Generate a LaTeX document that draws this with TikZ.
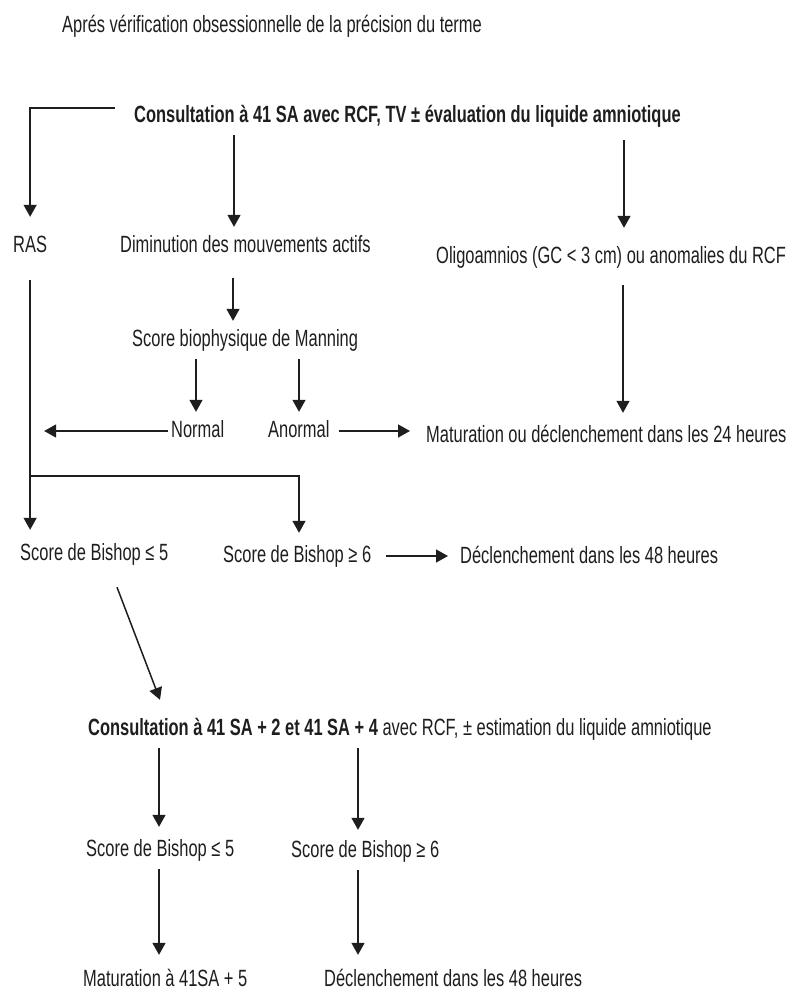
\documentclass[tikz,border=0pt]{standalone}
\usepackage{fontspec}
\setmainfont{Liberation Sans}[FakeStretch=0.7]
\usepackage{tikz}
\usetikzlibrary{arrows.meta}
\definecolor{ink}{HTML}{1E1E1E}

\begin{document}
\begin{tikzpicture}[x=1pt,y=-1pt]
		\tikzset{> = {Triangle[width=13pt,length=12pt]}}
		\tikzset{txt/.style = {anchor = base west,inner xsep = 0pt,inner ysep = 8pt,
				text height = 17pt,text depth = 5pt,text = ink,
				font = \fontsize{23.5}{28}\selectfont}}
		\tikzset{lien/.style = {draw = ink,line width = 1.5pt}}
		\useasboundingbox (0,0) rectangle (793,993);
		% textes
		\node[txt] (titre) at (62,32) {Aprés vérification obsessionnelle de la précision du terme};
		\node[txt] (cons) at (134,122) {\textbf{Consultation à 41 SA avec RCF, TV ± évaluation du liquide amniotique}};
		\node[txt] (ras) at (13,252) {RAS};
		\node[txt] (dim) at (120,252) {Diminution des mouvements actifs};
		\node[txt] (oli) at (436,263) {Oligoamnios (GC < 3 cm) ou anomalies du RCF};
		\node[txt] (man) at (132,346) {Score biophysique de Manning};
		\node[txt] (nor) at (171,437) {Normal};
		\node[txt] (ano) at (268,437) {Anormal};
		\node[txt] (matA) at (426,442) {Maturation ou déclenchement dans les 24 heures};
		\node[txt] (bisA) at (20,560) {Score de Bishop ≤ 5};
		\node[txt] (bisB) at (223,562) {Score de Bishop ≥ 6};
		\node[txt] (decA) at (460,563) {Déclenchement dans les 48 heures};
		\node[txt] (consB) at (88,735) {\textbf{Consultation à 41 SA + 2 et 41 SA + 4} avec RCF, ± estimation du liquide amniotique};
		\node[txt] (bisC) at (86,856) {Score de Bishop ≤ 5};
		\node[txt] (bisD) at (291,857) {Score de Bishop ≥ 6};
		\node[txt] (matB) at (83,986) {Maturation à 41SA + 5};
		\node[txt] (decB) at (324,986) {Déclenchement dans les 48 heures};
		% fleches
		\draw[lien,->] ([shift={(-19,-8)}]cons.west) -| ([yshift=10]ras.north);
		\draw[lien,->] (cons.south -| 234,0) -- (dim.north -| 234,0);
		\draw[lien,->] ([yshift=-5]cons.south -| 624,0) -- ([yshift=10]oli.north -| 624,0);
		\draw[lien,->] ([yshift=-15]ras.south) -- ([yshift=5]ras.south |- bisA.north);
		\draw[lien,->] (ras.south |- 0,476) -| ([yshift=4]bisB.north -| 299,0);
		\draw[lien,->] ([yshift=-13]dim.south -| 233,0) -- (man.north -| 233,0);
		\draw[lien,->] (man.south -| 196,0) -- (nor.north -| 196,0);
		\draw[lien,->] (man.south -| 299,0) -- (ano.north -| 299,0);
		\draw[lien,->] ([xshift=-3]nor.west) -- ([xshift=14]nor.west -| ras.south);
		\draw[lien,->] ([xshift=9]ano.east) -- ([xshift=-16]ano.east -| matA.west);
		\draw[lien,->] ([yshift=-9]oli.south -| 623,0) -- ([yshift=4]matA.north -| 623,0);
		\draw[lien,->] ([xshift=15]bisB.east) -- ([xshift=-12]bisB.east -| decA.west);
		\draw[lien,->] ([yshift=-14]bisA.south -| 117,0) -- ([yshift=10]consB.north -| 160,0);
		\draw[lien,->] (consB.south -| 159,0) -- ([yshift=4]bisC.north -| 159,0);
		\draw[lien,->] (consB.south -| 358,0) -- ([yshift=2]bisD.north -| 358,0);
		\draw[lien,->] (bisC.south -| 159,0) -- ([yshift=6]matB.north -| 159,0);
		\draw[lien,->] (bisD.south -| 358,0) -- ([yshift=6]decB.north -| 358,0);
	\end{tikzpicture}
\end{document}
